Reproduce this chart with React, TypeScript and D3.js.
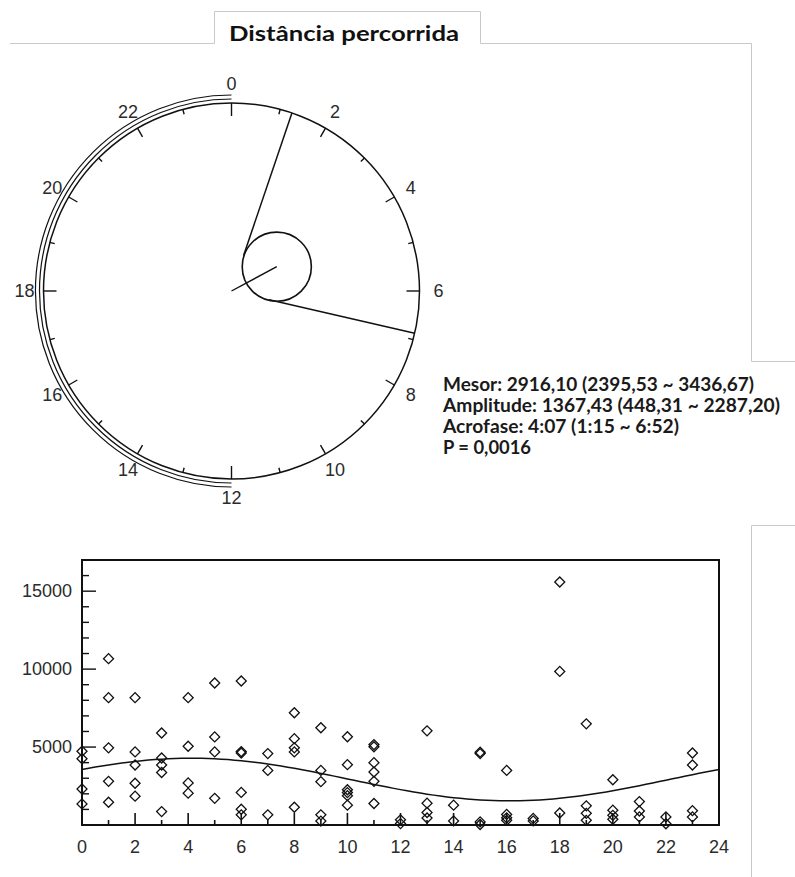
import React from "react";
import * as d3 from "d3";

// Cosinor summary (distance travelled)
const mesor = 2916.1;
const mesorCI = [2395.53, 3436.67];
const amplitude = 1367.43;
const amplitudeCI = [448.31, 2287.2];
const acrophaseH = 4 + 7 / 60;
const acrophaseCI = [1 + 15 / 60, 6 + 52 / 60];
const pValue = "0,0016";

const infoLines = [
  "Mesor: 2916,10 (2395,53 ~ 3436,67)",
  "Amplitude: 1367,43 (448,31 ~ 2287,20)",
  "Acrofase: 4:07 (1:15 ~ 6:52)",
  "P = 0,0016",
];
const infoWidths = [311, 337, 236, 88];

// Observations: hour of day and distance
const obsHour = [
  0, 0, 0, 0,
  1, 1, 1, 1, 1,
  2, 2, 2, 2, 2,
  3, 3, 3, 3, 3,
  4, 4, 4, 4,
  5, 5, 5, 5,
  6, 6, 6, 6, 6, 6,
  7, 7, 7,
  8, 8, 8, 8, 8,
  9, 9, 9, 9, 9,
  10, 10, 10, 10, 10, 10,
  11, 11, 11, 11, 11, 11,
  12, 12,
  13, 13, 13, 13,
  14, 14,
  15, 15, 15, 15,
  16, 16, 16, 16,
  17, 17,
  18, 18, 18,
  19, 19, 19, 19,
  20, 20, 20, 20,
  21, 21, 21,
  22, 22,
  23, 23, 23, 23,
];
const obsDistance = [
  4730, 4250, 2310, 1350,
  10670, 8170, 4950, 2800, 1460,
  8170, 4690, 3850, 2680, 1850,
  5900, 4300, 3850, 3370, 860,
  8170, 5050, 2700, 2040,
  9110, 5650, 4690, 1710,
  9240, 4710, 4620, 2090, 1010, 650,
  4580, 3500, 650,
  7200, 5540, 4950, 4690, 1140,
  6240, 3500, 2780, 650, 250,
  5660, 3870, 2260, 2080, 1880, 1270,
  5160, 5020, 4000, 3400, 2800, 1380,
  330, 90,
  6040, 1400, 800, 450,
  1270, 260,
  4670, 4580, 200, 30,
  3500, 680, 460, 300,
  420, 260,
  15590, 9850, 770,
  6490, 1230, 750, 300,
  2900, 950, 620, 370,
  1500, 900, 520,
  520, 80,
  4620, 3850, 920, 520,
];

const polarHourLabels = [0, 2, 4, 6, 8, 10, 12, 14, 16, 18, 20, 22];
const yTickLabels = [5000, 10000, 15000];
const xTickLabels = [0, 2, 4, 6, 8, 10, 12, 14, 16, 18, 20, 22, 24];

const W = 795;
const H = 877;

// Polar (clock) layout
const cx = 231.5;
const cy = 291;
const R = 188;
const rScale = d3.scaleLinear().domain([0, 5000]).range([0, R]);
const hourAngle = d3.scaleLinear().domain([0, 24]).range([0, 2 * Math.PI]);
const polar = (h: number, r: number): [number, number] => {
  const a = hourAngle(h);
  return [cx + r * Math.sin(a), cy - r * Math.cos(a)];
};

// Scatter layout
const x = d3.scaleLinear().domain([0, 24]).range([82, 719]);
const y = d3.scaleLinear().domain([0, 17000]).range([825, 560]);

const labelFont = "'Liberation Sans', Arial, sans-serif";
const textFont = "Lato, 'Open Sans', sans-serif";
const ink = "#111";
const labelInk = "#2b2b2b";

function ClockPlot() {
  const hours = d3.range(0, 24);
  const ticks = hours.map((h) => {
    const len = h % 6 === 0 ? 13 : h % 2 === 0 ? 10 : 5;
    const [x1, y1] = polar(h, R);
    const [x2, y2] = polar(h, R - len);
    return <line key={h} x1={x1} y1={y1} x2={x2} y2={y2} stroke={ink} strokeWidth={1.4} />;
  });

  const arcPath = (r: number) => {
    const p = d3.path();
    p.arc(cx, cy, r, hourAngle(12) - Math.PI / 2, hourAngle(24) - Math.PI / 2, false);
    return p.toString();
  };

  // acrophase vector and its confidence region
  const dCenter = rScale(amplitude);
  const ciRadius = rScale((amplitudeCI[1] - amplitudeCI[0]) / 2);
  const [ccx, ccy] = polar(acrophaseH, dCenter);
  const phi = hourAngle(acrophaseH);
  const bounds = acrophaseCI.map((h) => {
    const a = hourAngle(h);
    const start = dCenter * Math.cos(a - phi);
    const [x1, y1] = polar(h, start);
    const [x2, y2] = polar(h, R);
    return { x1, y1, x2, y2, h };
  });

  return (
    <g>
      <circle cx={cx} cy={cy} r={R} fill="none" stroke={ink} strokeWidth={1.5} />
      <path d={arcPath(R + 4)} fill="none" stroke={ink} strokeWidth={1.2} />
      <path d={arcPath(R + 8)} fill="none" stroke={ink} strokeWidth={1.2} />
      {ticks}
      {polarHourLabels.map((h) => {
        const [lx, ly] = polar(h, 207);
        return (
          <text
            key={h}
            x={lx}
            y={ly}
            textAnchor="middle"
            dominantBaseline="central"
            fontFamily={labelFont}
            fontSize={18}
            fill={labelInk}
          >
            {h}
          </text>
        );
      })}
      <line x1={cx} y1={cy} x2={ccx} y2={ccy} stroke={ink} strokeWidth={1.4} />
      <circle cx={ccx} cy={ccy} r={ciRadius} fill="none" stroke={ink} strokeWidth={1.6} />
      {bounds.map((b) => (
        <line key={b.h} x1={b.x1} y1={b.y1} x2={b.x2} y2={b.y2} stroke={ink} strokeWidth={1.5} />
      ))}
    </g>
  );
}

function ScatterPlot() {
  const diamond = d3.symbol(d3.symbolSquare, 50)() as string;
  const fit = d3.range(0, 24.001, 0.25).map((t) => ({
    t,
    v: mesor + amplitude * Math.cos((2 * Math.PI * (t - acrophaseH)) / 24),
  }));
  const fitLine = d3
    .line<{ t: number; v: number }>()
    .x((d) => x(d.t))
    .y((d) => y(d.v))(fit) as string;

  const yMinor = d3.range(1000, 17000, 1000);
  const xMinor = d3.range(1, 24);
  const [x0, x1] = x.range();
  const [y0, y1] = y.range();

  return (
    <g>
      {obsHour.map((h, i) => (
        <path
          key={i}
          d={diamond}
          transform={`translate(${x(h)},${y(obsDistance[i])}) rotate(45)`}
          fill="none"
          stroke={ink}
          strokeWidth={1.3}
        />
      ))}
      <path d={fitLine} fill="none" stroke={ink} strokeWidth={1.5} />
      {yMinor.map((v) => {
        const major = v % 5000 === 0;
        return (
          <line key={v} x1={x0} x2={x0 + (major ? 14 : 7)} y1={y(v)} y2={y(v)} stroke={ink} strokeWidth={1.4} />
        );
      })}
      {xMinor.map((h) => {
        const major = h % 2 === 0;
        return (
          <line key={h} x1={x(h)} x2={x(h)} y1={y0} y2={y0 - (major ? 12 : 5)} stroke={ink} strokeWidth={1.6} />
        );
      })}
      <rect x={x0} y={y1} width={x1 - x0} height={y0 - y1} fill="none" stroke={ink} strokeWidth={2} />
      {yTickLabels.map((v) => (
        <text
          key={v}
          x={x0 - 10}
          y={y(v)}
          textAnchor="end"
          dominantBaseline="central"
          fontFamily={labelFont}
          fontSize={18}
          fill={labelInk}
        >
          {v}
        </text>
      ))}
      {xTickLabels.map((h) => (
        <text
          key={h}
          x={x(h)}
          y={847}
          textAnchor="middle"
          dominantBaseline="central"
          fontFamily={labelFont}
          fontSize={18}
          fill={labelInk}
        >
          {h}
        </text>
      ))}
    </g>
  );
}

export default function App() {
  return (
    <div style={{ position: "absolute", left: 0, top: 0, width: W, height: H, background: "#fff" }}>
      <svg width={W} height={H} viewBox={`0 0 ${W} ${H}`} style={{ display: "block" }}>
        <rect width={W} height={H} fill="#fff" />
        <path
          d="M10,43.5 H214.5 V11.5 H480.5 V43.5 H751.5 V361.5 H795"
          fill="none"
          stroke="#c9c9c9"
          strokeWidth={1}
        />
        <path d="M795,525.5 H751.5 V877" fill="none" stroke="#c9c9c9" strokeWidth={1} />
        <text
          x={229}
          y={41}
          fontFamily={textFont}
          fontWeight={700}
          fontSize={20.5}
          fill={ink}
          textLength={230}
          lengthAdjust="spacingAndGlyphs"
        >
          Distância percorrida
        </text>
        <ClockPlot />
        {infoLines.map((s, i) => (
          <text
            key={i}
            x={443}
            y={391 + i * 21}
            fontFamily={textFont}
            fontWeight={700}
            fontSize={18.5}
            fill="#1a1a1a"
            textLength={infoWidths[i]}
            lengthAdjust="spacingAndGlyphs"
          >
            {s}
          </text>
        ))}
        <ScatterPlot />
      </svg>
    </div>
  );
}
